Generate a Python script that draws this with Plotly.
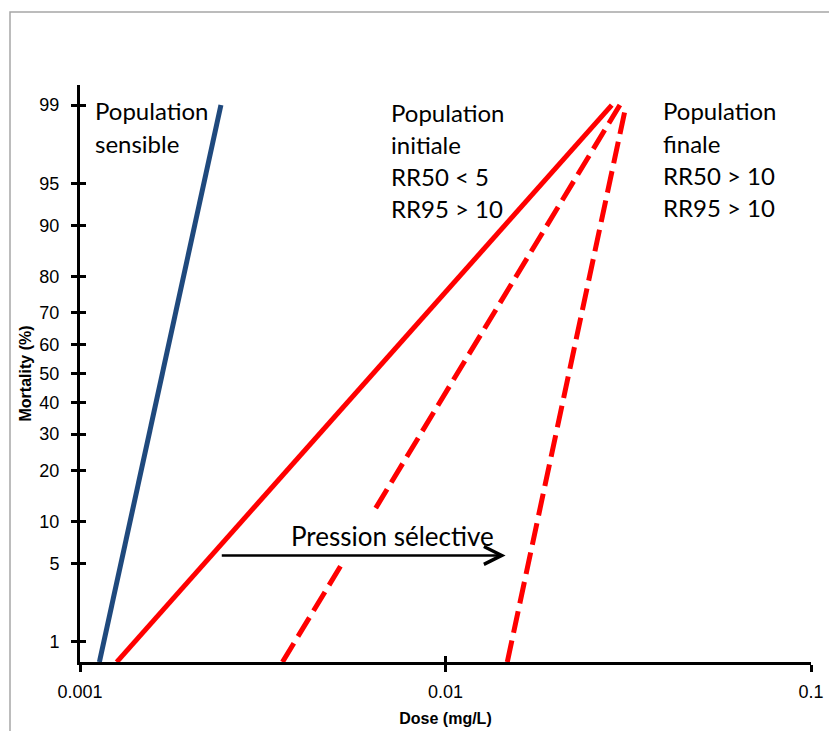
import math
from statistics import NormalDist
import plotly.graph_objects as go

# ---------------- data ----------------
mortality_ticks = [1, 5, 10, 20, 30, 40, 50, 60, 70, 80, 90, 95, 99]
dose_ticks = [0.001, 0.01, 0.1]
dose_tick_labels = ["0.001", "0.01", "0.1"]

sens_dose = [0.00113, 0.00243]
sens_mort = [0.62, 99]

init_dose = [0.00126, 0.0285]
init_mort = [0.62, 99]

mid_dose = [0.00358, 0.0300]
mid_mort = [0.62, 99]

final_dose = [0.01476, 0.0312]
final_mort = [0.62, 99]

arrow_dose = [0.00242, 0.01460]
arrow_mort = 5.75
pression_dose = 0.00718
pression_mort = 7.9

nd = NormalDist()
def probit(p):
    return nd.inv_cdf(p / 100.0)

# ---------------- layout geometry ----------------
OFF = 8  # page body margin
W, H = 837 - OFF, 731 - OFF
L, R, T, B = 80 - OFF, 26, 85 - OFF, 69
PW = W - L - R
PH = H - T - B

def px_x(px):  # screen px -> paper
    return (px - OFF - L) / PW

def px_y(py):
    return (H - B - (py - OFF)) / PH

fig = go.Figure()

fig.add_trace(go.Scatter(x=sens_dose, y=[probit(v) for v in sens_mort], mode="lines",
                         line=dict(color="#1F497D", width=5), showlegend=False, hoverinfo="skip"))
fig.add_trace(go.Scatter(x=init_dose, y=[probit(v) for v in init_mort], mode="lines",
                         line=dict(color="#FF0000", width=5), showlegend=False, hoverinfo="skip"))
fig.add_trace(go.Scatter(x=mid_dose, y=[probit(v) for v in mid_mort], mode="lines",
                         line=dict(color="#FF0000", width=5, dash="22px,8px"), showlegend=False, hoverinfo="skip"))
fig.add_trace(go.Scatter(x=final_dose, y=[probit(v) for v in final_mort], mode="lines",
                         line=dict(color="#FF0000", width=5, dash="22px,8px"), showlegend=False, hoverinfo="skip"))
# helper trace for the overlay (inside-tick) axes
fig.add_trace(go.Scatter(x=[dose_ticks[0]], y=[probit(50)], mode="markers", marker=dict(opacity=0),
                         xaxis="x2", yaxis="y2", showlegend=False, hoverinfo="skip"))

yr = [-2.5, 2.5]
xr = [-3, -1]
tickfont = dict(family="Liberation Sans, Arial, sans-serif", size=18, color="#000000")

fig.update_layout(
    width=W, height=H,
    margin=dict(l=L, r=R, t=T, b=B, autoexpand=False),
    paper_bgcolor="white", plot_bgcolor="white",
    xaxis=dict(type="log", range=xr, tickvals=dose_ticks, ticktext=dose_tick_labels,
               showgrid=False, zeroline=False, showline=True, linecolor="black", linewidth=3,
               ticks="outside", ticklen=7, tickwidth=3, tickcolor="black",
               tickfont=tickfont, ticklabelstandoff=4, automargin=False,
               title=dict(text="<b>Dose (mg/L)</b>", font=dict(family="Liberation Sans, Arial", size=16, color="black"),
                          standoff=13)),
    yaxis=dict(range=yr, tickvals=[probit(v) for v in mortality_ticks],
               ticktext=[str(v) for v in mortality_ticks],
               showgrid=False, zeroline=False, showline=True, linecolor="black", linewidth=3,
               ticks="outside", ticklen=6, tickwidth=3, tickcolor="black",
               tickfont=tickfont, ticklabelstandoff=8, automargin=False,
               title=dict(text="<b>Mortality (%)</b>", font=dict(family="Liberation Sans, Arial", size=16, color="black"),
                          standoff=4)),
    xaxis2=dict(type="log", range=xr, overlaying="x", tickvals=dose_ticks, showticklabels=False,
                showgrid=False, zeroline=False, showline=False, automargin=False,
                ticks="inside", ticklen=6, tickwidth=3, tickcolor="black", side="bottom"),
    yaxis2=dict(range=yr, overlaying="y", tickvals=[probit(v) for v in mortality_ticks], showticklabels=False,
                showgrid=False, zeroline=False, showline=False, automargin=False,
                ticks="inside", ticklen=6, tickwidth=3, tickcolor="black", side="left"),
)

# outer frame
fig.add_shape(type="rect", xref="paper", yref="paper",
              x0=px_x(10), x1=px_x(850), y0=px_y(745), y1=px_y(12),
              line=dict(color="#A6A6A6", width=1.5), fillcolor="rgba(0,0,0,0)", layer="below")

afont = dict(family="Lato, sans-serif", size=24, color="black")

def label(text, px, baseline):
    fig.add_annotation(text=text, xref="paper", yref="paper", x=px_x(px), y=px_y(baseline - 10),
                       xanchor="left", yanchor="middle", showarrow=False, font=afont)

label("Population", 93, 121)
label("sensible", 93, 153)
for i, t in enumerate(["Population", "initiale", "RR50 < 5", "RR95 > 10"]):
    label(t, 389, 122 + 32 * i)
for i, t in enumerate(["Population", "finale", "RR50 > 10", "RR95 > 10"]):
    label(t, 661, 121 + 32 * i)

# Pression sélective label with white background
fig.add_annotation(text="Pression sélective", xref="x", yref="y",
                   x=math.log10(pression_dose), y=probit(pression_mort),
                   showarrow=False, font=dict(family="Lato, sans-serif", size=26, color="black"),
                   bgcolor="white", borderpad=10)
# arrow
fig.add_annotation(text="", xref="x", yref="y", axref="x", ayref="y",
                   x=math.log10(arrow_dose[1]), y=probit(arrow_mort),
                   ax=math.log10(arrow_dose[0]), ay=probit(arrow_mort),
                   showarrow=True, arrowhead=5, arrowsize=1.4, arrowwidth=2.5, arrowcolor="black")

fig.write_html("out.html")
